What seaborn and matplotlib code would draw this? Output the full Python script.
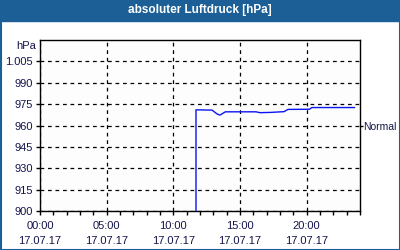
import matplotlib
matplotlib.use("Agg")
import matplotlib.pyplot as plt
import seaborn as sns
import pandas as pd
from matplotlib.patches import Rectangle

# data (hours of 17.07.17, pressure in hPa)
hours = [11.7, 11.7, 12.9, 13.3, 13.5, 13.9, 16.2, 16.5, 17.3, 18.3, 18.6, 20.2, 20.4, 23.6]
pressure = [900, 971.0, 970.8, 968.0, 967.3, 969.6, 969.6, 969.0, 969.2, 969.7, 971.3, 971.4, 972.6, 972.6]
xtick_hours = [0, 5, 10, 15, 20]
xtick_labels = ["00:00\n17.07.17", "05:00\n17.07.17", "10:00\n17.07.17", "15:00\n17.07.17", "20:00\n17.07.17"]
ytick_values = [900, 915, 930, 945, 960, 975, 990, 1005]
ytick_labels = ["900", "915", "930", "945", "960", "975", "990", "1.005"]
normal_value = 960
title = "absoluter Luftdruck [hPa]"
unit = "hPa"

sns.set_theme(style="white")
plt.rcParams["font.family"] = ["Liberation Sans", "DejaVu Sans"]

txt = "#14144a"
blue_bar = "#1c5f96"

fig = plt.figure(figsize=(4, 2.5), dpi=100)
fig.patch.set_facecolor("white")
ax = fig.add_axes([40/400, 1-211/250, 320/400, 171/250])
ax.set_facecolor("#fcfdfc")

df = pd.DataFrame({"h": hours, "p": pressure})
sns.lineplot(data=df, x="h", y="p", ax=ax, color="#0a14f0", lw=1.0, sort=False, estimator=None)

ax.set_xlim(0, 24)
ax.set_ylim(900, 1020)
ax.set_xticks(xtick_hours)
ax.set_xticklabels(xtick_labels, fontsize=8, color=txt, linespacing=1.6)
ax.set_xticks(range(0, 25), minor=True)
ax.set_yticks(ytick_values)
ax.set_yticklabels(ytick_labels, fontsize=8, color=txt)
ax.set_xlabel("")
ax.set_ylabel("")
ax.tick_params(axis="x", which="both", direction="out", length=3, width=1, color="black", bottom=True, pad=4)
ax.tick_params(axis="y", which="both", direction="out", length=3, width=1, color="black", left=True, pad=2)
ax.grid(True, color="black", linestyle=(0, (3, 3)), linewidth=0.9)
for s in ax.spines.values():
    s.set_color("black")
    s.set_linewidth(1)

ax2 = ax.twinx()
ax2.set_ylim(900, 1020)
ax2.set_yticks([normal_value])
ax2.set_yticklabels(["Normal"], fontsize=7.5, color=txt)
ax2.tick_params(axis="y", direction="out", length=2, width=1, color="black", right=True, pad=0.5)
ax2.grid(False)
for s in ax2.spines.values():
    s.set_visible(False)

fig.text(36/400, 1-46/250, unit, ha="right", va="center", fontsize=8, color=txt)

# title bar and border
fig.patches.append(Rectangle((0, 1-21/250), 1, 21/250, transform=fig.transFigure, color=blue_bar, zorder=0))
fig.patches.append(Rectangle((0.5/400, 0.5/250), 399/400, 249/250, transform=fig.transFigure,
                             fill=False, edgecolor=blue_bar, lw=1.5, zorder=0))
fig.text(0.5, 1-10.5/250, title, ha="center", va="center", fontsize=8.5, fontweight="bold", color="white")

fig.savefig("out.png", dpi=100)
